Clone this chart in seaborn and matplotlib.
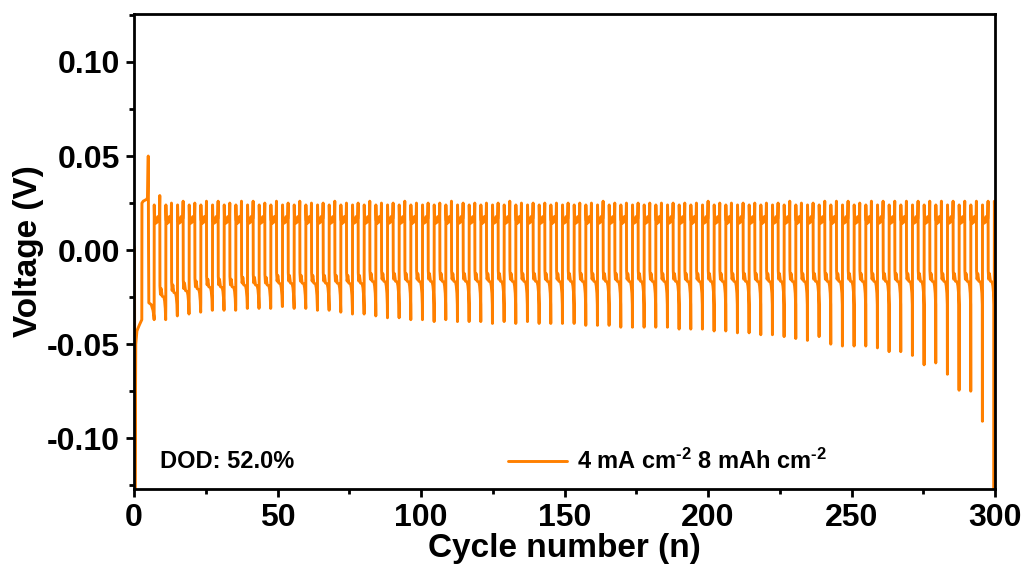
import numpy as np
import pandas as pd
import matplotlib
matplotlib.use("Agg")
import matplotlib.pyplot as plt
from matplotlib.ticker import MultipleLocator, FormatStrFormatter
import seaborn as sns

#---------------------------------------------------------------------------------------#
# DATA

# opening part of the curve, before the regular cycling starts
start_cycle = [0.0, 0.15, 0.3, 0.6, 1.0, 1.8, 2.7, 2.75, 3.2, 4.4, 4.7, 4.95, 5.05, 5.15, 6.0, 6.6, 6.9]
start_volt = [0.002, 0.001, -0.135, -0.050, -0.043, -0.040, -0.037, 0.025, 0.026, 0.027,
              0.028, 0.050, 0.000, -0.028, -0.029, -0.032, -0.035]

FIRST_MIN = 7.0      # cycle number of the first regular negative tip
CYCLE_LEN = 4.065    # spacing between two negative tips

# deepest point of every stripping step (73 tips, last one runs off the axis)
neg_min = [-0.037, -0.030, -0.028, -0.028, -0.028, -0.027, -0.028, -0.029, -0.029, -0.029,
           -0.030, -0.030, -0.031, -0.031, -0.032, -0.032, -0.033, -0.034, -0.034, -0.035,
           -0.036, -0.036, -0.037, -0.037, -0.038, -0.037, -0.038, -0.038, -0.038, -0.039,
           -0.038, -0.039, -0.038, -0.039, -0.039, -0.039, -0.039, -0.040, -0.040, -0.040,
           -0.041, -0.041, -0.041, -0.041, -0.041, -0.042, -0.042, -0.042, -0.043, -0.043,
           -0.044, -0.044, -0.045, -0.045, -0.046, -0.047, -0.048, -0.046, -0.050, -0.051,
           -0.051, -0.051, -0.052, -0.054, -0.054, -0.056, -0.061, -0.060, -0.066, -0.0745,
           -0.075, -0.091, -0.135]

# top of every plating step
pos_peak = [0.029, 0.025, 0.026, 0.025, 0.026, 0.026, 0.025, 0.026, 0.026, 0.025,
            0.026, 0.025, 0.026, 0.025, 0.025, 0.026, 0.025, 0.025, 0.026, 0.025,
            0.025, 0.026, 0.025, 0.025, 0.025, 0.026, 0.025, 0.025, 0.025, 0.025,
            0.026, 0.025, 0.025, 0.025, 0.025, 0.025, 0.025, 0.025, 0.026, 0.025,
            0.025, 0.025, 0.025, 0.025, 0.025, 0.025, 0.025, 0.026, 0.025, 0.025,
            0.025, 0.025, 0.025, 0.025, 0.026, 0.025, 0.025, 0.026, 0.026, 0.026,
            0.025, 0.026, 0.026, 0.026, 0.026, 0.026, 0.026, 0.026, 0.026, 0.026,
            0.026, 0.026, 0.026]

# flat level of every stripping step
neg_plateau = [-0.025, -0.023, -0.022, -0.021, -0.020, -0.020, -0.020, -0.019, -0.019, -0.019,
               -0.018, -0.018, -0.018, -0.018, -0.018, -0.018, -0.018, -0.018, -0.017, -0.017,
               -0.017, -0.017, -0.017, -0.017, -0.017, -0.017, -0.017, -0.017, -0.017, -0.017,
               -0.017, -0.017, -0.017, -0.017, -0.017, -0.017, -0.017, -0.017, -0.017, -0.017,
               -0.017, -0.017, -0.017, -0.017, -0.017, -0.017, -0.017, -0.017, -0.017, -0.017,
               -0.017, -0.017, -0.017, -0.017, -0.017, -0.017, -0.017, -0.017, -0.017, -0.017,
               -0.017, -0.017, -0.017, -0.017, -0.017, -0.017, -0.017, -0.017, -0.017, -0.017,
               -0.017, -0.017, -0.017]

# shape of one plating step (time after the negative tip, voltage)
plate_t = [0.03, 0.15, 0.45, 1.0, 1.25, 1.45, 1.85, 1.97]
plate_v = [0.024, 0.016, 0.0142, 0.0148, 0.0178, 0.0158, 0.0168, None]  # None -> pos_peak

# shape of one stripping step (time after the negative tip, offset from plateau)
strip_t = [2.02, 2.2, 2.45, 2.8, 3.4, 3.65, 3.88, 4.02]
strip_dv = [0.006, 0.0015, 0.0045, 0.0005, 0.0, -0.002, -0.006, -0.012]

# last bit after the final tip
end_cycle = [299.78, 299.9, 300.4]
end_volt = [0.026, 0.018, 0.018]

LEGEND_LABEL = "4 mA cm$^{\\text{-2}}$ 8 mAh cm$^{\\text{-2}}$"
DOD_TEXT = "DOD: 52.0%"

#---------------------------------------------------------------------------------------#
# BUILD THE CURVE

cycle = list(start_cycle)
volt = list(start_volt)
for k in range(len(neg_min) - 1):
    t0 = FIRST_MIN + k * CYCLE_LEN
    cycle.append(t0)
    volt.append(neg_min[k])
    for dt, v in zip(plate_t, plate_v):
        cycle.append(t0 + dt)
        volt.append(pos_peak[k] if v is None else v)
    for dt, dv in zip(strip_t, strip_dv):
        cycle.append(t0 + dt)
        volt.append(neg_plateau[k] + dv)
cycle.append(FIRST_MIN + (len(neg_min) - 1) * CYCLE_LEN)
volt.append(neg_min[-1])
cycle += end_cycle
volt += end_volt

df = pd.DataFrame({"cycle": cycle, "voltage": volt})

#---------------------------------------------------------------------------------------#
# PLOT

sns.set_style("ticks")
plt.rcParams['font.family'] = ['Liberation Sans', 'DejaVu Sans']
plt.rcParams['font.weight'] = 'bold'
plt.rcParams['axes.unicode_minus'] = False
plt.rcParams['mathtext.fontset'] = 'custom'
plt.rcParams['mathtext.rm'] = 'Liberation Sans:bold'
plt.rcParams['mathtext.bf'] = 'Liberation Sans:bold'
plt.rcParams['mathtext.default'] = 'bf'
for key in ['text.color', 'axes.labelcolor', 'xtick.color', 'ytick.color', 'axes.edgecolor']:
    plt.rcParams[key] = 'black'

fig, ax = plt.subplots(figsize=(10.28, 5.74), dpi=100)
fig.subplots_adjust(left=0.1304, right=0.9679, top=0.9756, bottom=0.1481)

sns.lineplot(data=df, x="cycle", y="voltage", ax=ax, color="#FF8000", lw=2.1,
             sort=False, estimator=None, label=LEGEND_LABEL)

ax.set_xlim(0, 300)
ax.set_ylim(-0.127, 0.1255)
ax.xaxis.set_major_locator(MultipleLocator(50))
ax.xaxis.set_minor_locator(MultipleLocator(25))
ax.yaxis.set_major_locator(MultipleLocator(0.05))
ax.yaxis.set_minor_locator(MultipleLocator(0.025))
ax.yaxis.set_major_formatter(FormatStrFormatter('%.2f'))

for side in ['top', 'right', 'bottom', 'left']:
    ax.spines[side].set_linewidth(2)
    ax.spines[side].set_color('black')
ax.tick_params(which='major', direction='out', length=6, width=2, labelsize=23, pad=4,
               colors='black')
ax.tick_params(which='minor', direction='out', length=3.5, width=2, colors='black')
for lab in ax.get_xticklabels() + ax.get_yticklabels():
    lab.set_fontweight('bold')

ax.set_xlabel("Cycle number (n)", fontsize=24, fontweight='bold', labelpad=0)
ax.set_ylabel("Voltage (V)", fontsize=24, fontweight='bold', labelpad=2)

ax.text(0.030, 0.057, DOD_TEXT, transform=ax.transAxes, fontsize=17,
        fontweight='bold', va='center', ha='left')

ax.legend(loc='center left', bbox_to_anchor=(0.41, 0.058), frameon=False,
          handlelength=2.5, handletextpad=0.4, prop={'size': 17, 'weight': 'bold'})

plt.savefig("out.png", dpi=100)
